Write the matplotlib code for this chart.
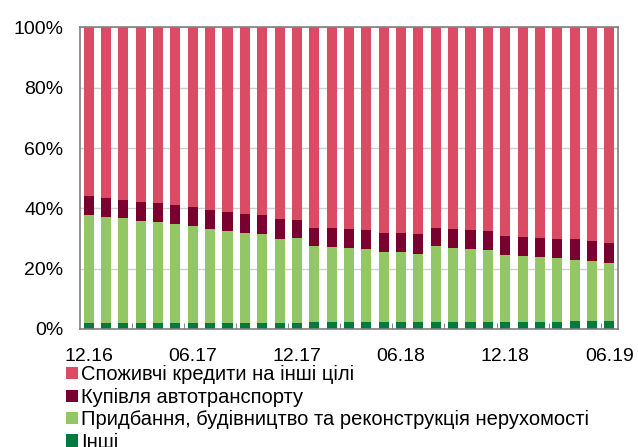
import matplotlib
matplotlib.use("Agg")
import matplotlib.pyplot as plt
from matplotlib.patches import Patch
import numpy as np

plt.rcParams['font.family'] = ['Liberation Sans', 'DejaVu Sans']

months = ["12.16", "01.17", "02.17", "03.17", "04.17", "05.17", "06.17", "07.17",
          "08.17", "09.17", "10.17", "11.17", "12.17", "01.18", "02.18", "03.18",
          "04.18", "05.18", "06.18", "07.18", "08.18", "09.18", "10.18", "11.18",
          "12.18", "01.19", "02.19", "03.19", "04.19", "05.19", "06.19"]
tick_labels = ["12.16", "06.17", "12.17", "06.18", "12.18", "06.19"]

# shares (%)
others = [2.1, 1.9, 1.9, 1.9, 1.9, 2.1, 2.1, 2.1, 2.1, 2.1, 2.1, 2.1, 2.1, 2.2, 2.2, 2.3,
          2.3, 2.3, 2.3, 2.3, 2.3, 2.3, 2.3, 2.3, 2.3, 2.3, 2.3, 2.3, 2.7, 2.7, 2.7]
real_estate = [35.7, 35.4, 34.9, 33.9, 33.5, 32.6, 32.0, 31.2, 30.3, 29.7, 29.3, 27.7,
               28.0, 25.3, 25.1, 24.6, 24.2, 23.3, 23.1, 22.6, 25.2, 24.7, 24.1, 23.8,
               22.2, 21.9, 21.5, 21.1, 20.3, 19.7, 19.2]
auto = [6.4, 6.2, 6.1, 6.2, 6.3, 6.5, 6.5, 6.3, 6.4, 6.5, 6.5, 6.6, 5.9, 6.1, 6.3, 6.1,
        6.3, 6.3, 6.5, 6.6, 6.1, 6.3, 6.4, 6.4, 6.4, 6.4, 6.5, 6.5, 6.8, 6.8, 6.6]
consumer = [100 - o - r - a for o, r, a in zip(others, real_estate, auto)]

labels = ["Споживчі кредити на інші цілі", "Купівля автотранспорту",
          "Придбання, будівництво та реконструкція нерухомості", "Інші"]
colors = ["#DC4B64", "#7A0030", "#93C664", "#007A3E"]

fig = plt.figure(figsize=(6.38, 4.47), dpi=100)
ax = fig.add_axes([0.1254, 0.264, 0.8433, 0.6745])

x = np.arange(len(months))
w = 0.58
b = np.zeros(len(months))
series = [others, real_estate, auto, consumer]
scol = [colors[3], colors[2], colors[1], colors[0]]
for s, c in zip(series, scol):
    ax.bar(x, s, w, bottom=b, color=c, zorder=2)
    b = b + np.array(s)

ax.set_xlim(-0.5, len(months) - 0.5)
ax.set_ylim(0, 100)
ax.set_yticks([0, 20, 40, 60, 80, 100])
ax.set_yticklabels([f"{v}%" for v in [0, 20, 40, 60, 80, 100]], fontsize=14)
ax.yaxis.grid(True, color="#D0D0D0", linewidth=1, zorder=0)
ax.set_axisbelow(True)

ax.set_xticks([months.index(t) for t in tick_labels])
ax.set_xticklabels(tick_labels, fontsize=14)
ax.set_xticks(np.arange(2.5, len(months) - 1, 3), minor=True)
ax.tick_params(axis='x', which='major', length=0, pad=14)
ax.tick_params(axis='x', which='minor', direction='in', length=4, color="#707070")
ax.tick_params(axis='y', length=0, pad=12)
for sp in ax.spines.values():
    sp.set_color("#808080")
    sp.set_linewidth(1.2)

handles = [Patch(facecolor=c, edgecolor='none') for c in colors]
fig.legend(handles, labels, loc='upper left', bbox_to_anchor=(0.103, 0.183),
           frameon=False, fontsize=14.5, handlelength=0.62, handleheight=0.55,
           handletextpad=0.15, labelspacing=0.17, borderpad=0, borderaxespad=0)

fig.savefig("out.png", dpi=100)
